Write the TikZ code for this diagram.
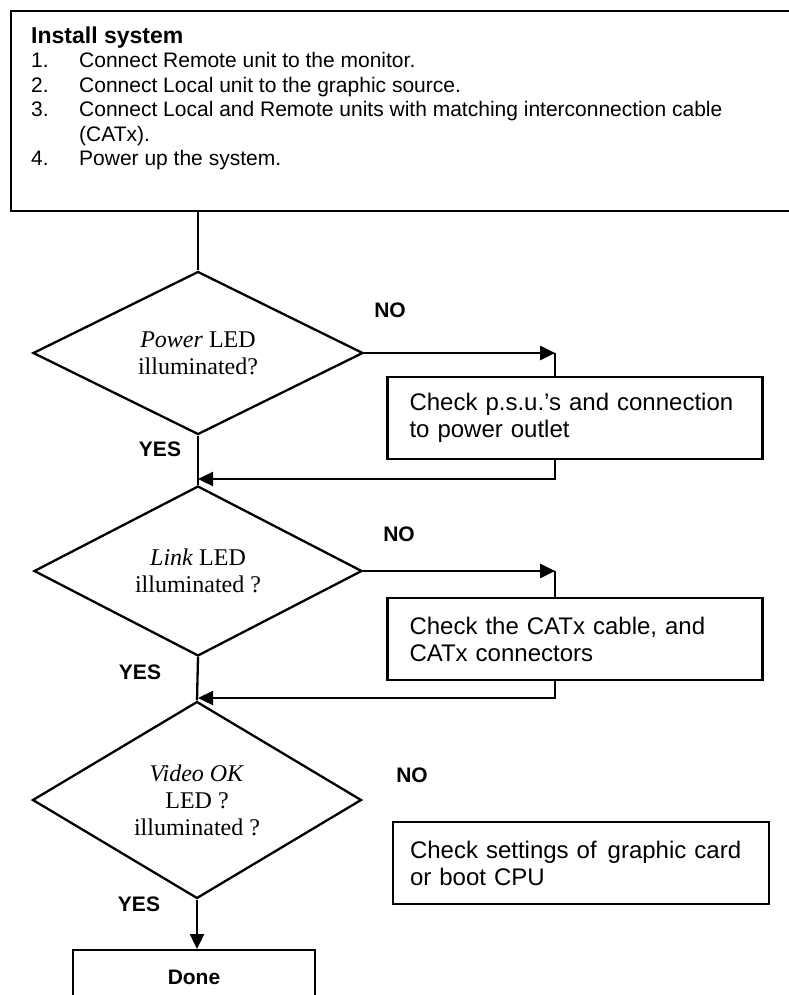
\documentclass[tikz,border=0pt]{standalone}
\usepackage{fontspec}
\setmainfont{Liberation Sans}
\newfontfamily\timesfont{Liberation Serif}
\usepackage{tikz}
\usetikzlibrary{shapes.geometric,arrows.meta}
\tikzset{>={Triangle[length=15pt,width=14pt]}}
\tikzstyle{flow}=[line width=2.3pt,black]
\tikzstyle{decision}=[diamond,draw,flow,inner sep=0,align=center,
  font=\timesfont\fontsize{24}{27}\selectfont]
\tikzstyle{action}=[rectangle,draw,flow,align=left,inner xsep=22pt,
  inner ysep=0,text width=331pt,minimum height=82pt,
  font=\fontsize{24}{27}\selectfont]
\tikzstyle{answer}=[font=\bfseries\fontsize{21}{24}\selectfont]
\tikzset{
  stepsbox/.style={draw,flow,minimum width=800pt,minimum height=200pt,
                   anchor=north west},
  donebox/.style={draw,flow,minimum width=242pt,minimum height=54pt,
                  anchor=north,font=\bfseries\fontsize{21}{24}\selectfont}}

\begin{document}
\begin{tikzpicture}[x=1pt,y=-1pt]
  \useasboundingbox (0,0) rectangle (788,995);

  % INSTALL BOX
  \node[stepsbox] (install) at (10,10) {};
  \node[anchor=north west,inner sep=0,font=\fontsize{21}{24.5}\selectfont]
    (steps) at (31,26) {%
    \begin{tabular}{@{}p{48pt}@{}l@{}}
      \multicolumn{2}{@{}l}{\fontsize{23}{24.5}\selectfont\bfseries Install system}\\
      1. & Connect Remote unit to the monitor.\\
      2. & Connect Local unit to the graphic source.\\
      3. & Connect Local and Remote units with matching interconnection cable\\
         & (CATx).\\
      4. & Power up the system.
    \end{tabular}};

  % DECISIONS
  \node[decision,minimum width=330pt,minimum height=140pt] (power) at (198,353)
    {\textit{Power} LED\\illuminated?};
  \node[decision,minimum width=328pt,minimum height=142pt] (link) at (198,571)
    {\textit{Link} LED\\illuminated ?};
  \node[decision,minimum width=329pt,minimum height=184pt] (video) at (197,800)
    {\textit{Video OK}\\LED ?\\illuminated ?};

  % ACTIONS
  \node[action] (psu) at (575,418)
    {Check p.s.u.'s and connection\\to power outlet};
  \node[action] (catx) at (575,639)
    {Check the CATx cable, and\\CATx connectors};
  \node[action,text width=342pt,inner xsep=17pt] (gfx) at (581,863)
    {Check settings of\hspace{3pt} graphic card\\or boot CPU};
  \node[donebox] (done) at (194,949) {Done};

  % ANSWERS
  \node[answer] (no1) at (390,310) {NO};
  \node[answer] (no2) at (399,534) {NO};
  \node[answer] (no3) at (412,775) {NO};
  \node[answer] (yes1) at (160,449) {YES};
  \node[answer] (yes2) at (140,672) {YES};
  \node[answer] (yes3) at (139,904) {YES};

  % CONNECTORS
  \draw[flow] (power.north |- install.south) -- (power.north);
  \draw[flow] (power.south) -- (link.north);
  \draw[flow] (link.south) -- (video.north);
  \draw[flow,->] (video.south) -- (video.south |- done.north);

  \draw[flow,->] (power.east) -- ++(191,0) coordinate (n1);
  \draw[flow] (n1) -- (n1 |- psu.north);
  \coordinate (j1) at (power.south |- 0,479);
  \draw[flow,->] (n1 |- psu.south) |- (j1);

  \draw[flow,->] (link.east) -- ++(192,0) coordinate (n2);
  \draw[flow] (n2) -- (n2 |- catx.north);
  \coordinate (j2) at (link.south |- 0,698);
  \draw[flow,->] (n2 |- catx.south) |- (j2);

\end{tikzpicture}
\end{document}
